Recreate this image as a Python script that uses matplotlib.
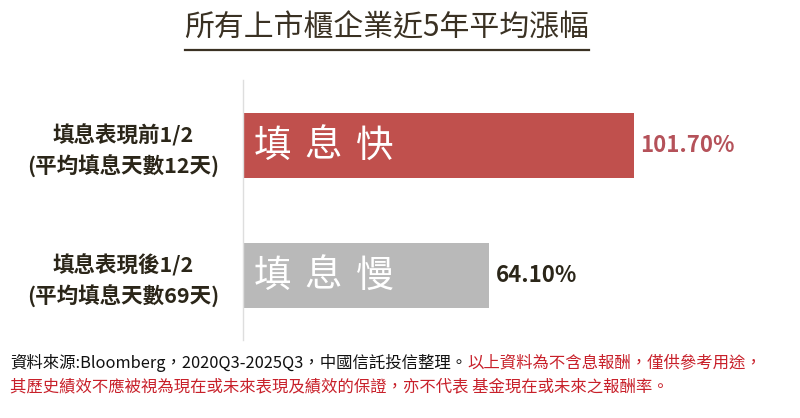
import matplotlib
matplotlib.use("Agg")
import matplotlib.pyplot as plt
from matplotlib.lines import Line2D

plt.rcParams['font.family'] = ['Noto Sans CJK TC', 'DejaVu Sans']

# ---- data ----
categories = ["填息表現前1/2\n(平均填息天數12天)", "填息表現後1/2\n(平均填息天數69天)"]
values = [101.70, 64.10]
bar_texts = ["填息快", "填息慢"]
value_labels = ["101.70%", "64.10%"]
title = "所有上市櫃企業近5年平均漲幅"
note_black = "資料來源:Bloomberg，2020Q3-2025Q3，中國信託投信整理。"
note_red1 = "以上資料為不含息報酬，僅供參考用途，"
note_red2 = "其歷史績效不應被視為現在或未來表現及績效的保證，亦不代表 基金現在或未來之報酬率。"

# ---- styles ----
bar_colors = ["#c0504d", "#b9b9b9"]
value_colors = ["#b5525a", "#2b2619"]
text_dark = "#2b2619"
note_red_color = "#c8202a"

fig = plt.figure(figsize=(8, 4.18), dpi=100)
fig.patch.set_facecolor("white")
ax = fig.add_axes([243/800, 78/418, 537.6/800, 260/418])

pos = list(range(len(values)))
ax.barh(pos, values, height=0.5, color=bar_colors)
ax.set_xlim(0, 140)
ax.set_ylim(1.5, -0.5)

for s in ["top", "right", "bottom"]:
    ax.spines[s].set_visible(False)
ax.spines["left"].set_color("#dedede")
ax.spines["left"].set_linewidth(1)
ax.set_xticks([])
ax.set_yticks(pos)
ax.set_yticklabels(categories, fontsize=15.5, fontweight="bold", color=text_dark,
                   linespacing=1.45)
for lbl in ax.get_yticklabels():
    lbl.set_ha("center")
ax.tick_params(axis="y", length=0, pad=86)

# bar inner text (spaced characters)
char_offsets = [7.5, 44.5, 81]
for i, txt in enumerate(bar_texts):
    for k, ch in enumerate(txt):
        ax.annotate(ch, xy=(0, i), xytext=(char_offsets[k], -1), textcoords="offset points",
                    ha="left", va="center", fontsize=27, color="white")

# value labels
for i, (v, lab) in enumerate(zip(values, value_labels)):
    ax.annotate(lab, xy=(v, i), xytext=(5, 0), textcoords="offset points",
                ha="left", va="center", fontsize=16, fontweight="bold", color=value_colors[i])

# title with underline
t = fig.text(387/800, 1 - 28/418, title, ha="center", va="center", fontsize=21.5,
             fontweight="medium", color="#3a3123")
fig.canvas.draw()
bb = t.get_window_extent()
x0, x1 = bb.x0 / 800, bb.x1 / 800
fig.add_artist(Line2D([x0, x1], [1 - 50/418, 1 - 50/418], color="#3a3123", linewidth=1.6))

# footnotes
n1 = fig.text(10/800, 1 - 363/418, note_black, ha="left", va="center", fontsize=11.8,
              color="#111111")
fig.text(10/800, 1 - 387/418, note_red2, ha="left", va="center", fontsize=11.8,
         color=note_red_color)
ax.annotate(note_red1, xy=(1, 0.5), xycoords=n1, ha="left", va="center", fontsize=11.8,
            color=note_red_color, annotation_clip=False)

fig.savefig("out.png", dpi=100, facecolor="white")
